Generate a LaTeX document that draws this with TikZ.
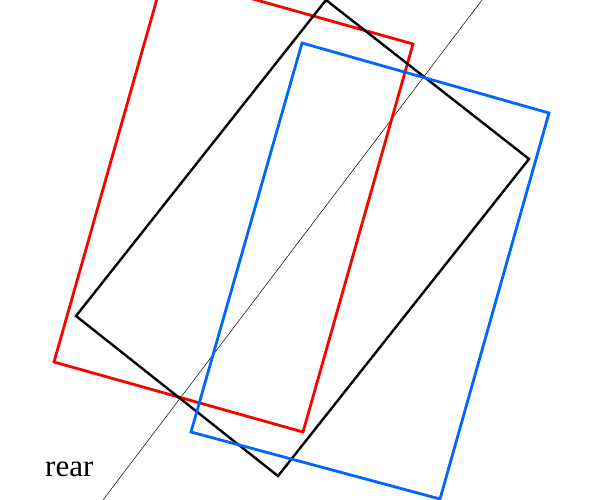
\documentclass[tikz,border=0pt]{standalone}
\usepackage{fontspec}
\setmainfont{Liberation Serif}
\usepackage{tikz}
\definecolor{carred}{RGB}{255, 0, 0}
\definecolor{carblue}{RGB}{0, 102, 255}

\begin{document}
\begin{tikzpicture}[x=1pt, y=-1pt]
            \useasboundingbox                                     (  0,  0) rectangle (589,500);
            \clip                                                 (  0,  0) rectangle (589,500);
            \draw[black, line width=0.5pt]                        (103,500) -- (482,  0);
            \draw[carred,  line width=2.8pt]                      (164,-26) -- (413, 44) -- (303,432) -- ( 54,362) -- cycle;
            \draw[black,   line width=2.4pt]                      (326,  0) -- (529,159) -- (278,476) -- ( 76,316) -- cycle;
            \draw[carblue, line width=2.8pt]                      (302, 43) -- (549,113) -- (440,499) -- (191,432) -- cycle;
            \node[anchor=base west, inner sep=0pt, font=\fontsize{31}{36}\selectfont] (rear) at (45,476) {rear};
\end{tikzpicture}
\end{document}
